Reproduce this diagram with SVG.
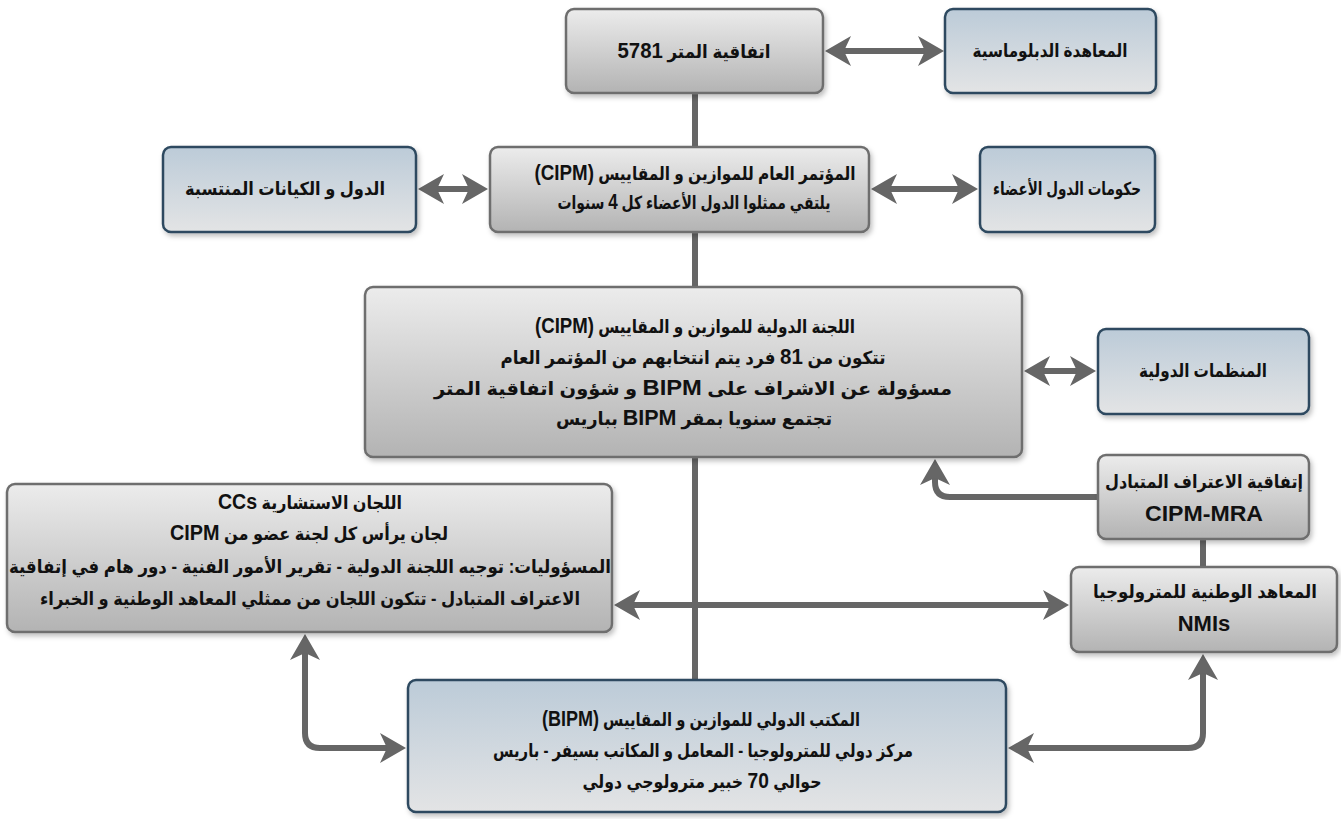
<svg xmlns="http://www.w3.org/2000/svg" width="1341" height="819" viewBox="0 0 1341 819">
<defs>
<linearGradient id="gGray" x1="0" y1="0" x2="0" y2="1">
<stop offset="0" stop-color="#ececec"/>
<stop offset="1" stop-color="#b3b3b3"/>
</linearGradient>
<linearGradient id="gBlue" x1="0" y1="0" x2="0" y2="1">
<stop offset="0" stop-color="#bccbd8"/>
<stop offset="1" stop-color="#e3e4e5"/>
</linearGradient>
<filter id="sh" x="-10%" y="-10%" width="120%" height="130%">
<feDropShadow dx="2" dy="3" stdDeviation="2.5" flood-color="#000" flood-opacity="0.25"/>
</filter>
<marker id="ah" viewBox="0 0 26 30" refX="15" refY="15" markerWidth="26" markerHeight="30" markerUnits="userSpaceOnUse" orient="auto-start-reverse">
<path d="M26,15 L0,0 L7,15 L0,30 Z" fill="#666"/>
</marker>
</defs>
<style>
.gray{fill:url(#gGray);stroke:#6e6e6e;stroke-width:2.5;filter:url(#sh)}
.blue{fill:url(#gBlue);stroke:#2d4a60;stroke-width:2.5;filter:url(#sh)}
text{font-family:'Liberation Sans','DejaVu Sans',sans-serif;font-weight:bold;font-size:18px;fill:#111;text-anchor:middle;direction:rtl}
.big{font-size:22px}
.lat{unicode-bidi:isolate;direction:ltr}
.ltr{direction:ltr}
.con{fill:none;stroke:#666;stroke-width:6;stroke-linejoin:round}
.arr{marker-start:url(#ah);marker-end:url(#ah)}
.arr1{marker-end:url(#ah)}
</style>

<g id="connectors">
<path class="con" d="M695,93 V147"/>
<path class="con" d="M695,232 V287"/>
<path class="con" d="M695,457 V680"/>
<path class="con" d="M1203,539 V567"/>
<path class="con arr" d="M836,51 H933"/>
<path class="con arr" d="M429,189 H477"/>
<path class="con arr" d="M882,189 H967"/>
<path class="con arr" d="M1035,371 H1085"/>
<path class="con arr1" d="M1098,497 H950 Q935,497 935,482 V470"/>
<path class="con arr" d="M625,605 H1058"/>
<path class="con arr" d="M305,645 V733 Q305,748 320,748 H395"/>
<path class="con arr" d="M1203,665 V733 Q1203,748 1188,748 H1019"/>
</g>

<g id="metre-convention">
<rect class="gray" x="566" y="9" width="257" height="84" rx="8"/>
<text x="694" y="58" textLength="153" lengthAdjust="spacingAndGlyphs">اتفاقية المتر <tspan class="big">5781</tspan></text>
</g>
<g id="diplomatic-treaty">
<rect class="blue" x="945" y="9" width="211" height="84" rx="8"/>
<text x="1050" y="57" textLength="155" lengthAdjust="spacingAndGlyphs">المعاهدة الدبلوماسية</text>
</g>
<g id="states-entities">
<rect class="blue" x="163" y="147" width="253" height="85" rx="8"/>
<text x="285" y="195" textLength="200" lengthAdjust="spacingAndGlyphs">الدول و الكيانات المنتسبة</text>
</g>
<g id="general-conference">
<rect class="gray" x="490" y="147" width="379" height="85" rx="8"/>
<text x="695" y="180" textLength="321" lengthAdjust="spacingAndGlyphs">المؤتمر العام للموازين و المقاييس  <tspan class="big lat">(CIPM)</tspan></text>
<text x="694" y="209" textLength="273" lengthAdjust="spacingAndGlyphs">يلتقي ممثلوا الدول الأعضاء كل <tspan class="big">4</tspan> سنوات</text>
</g>
<g id="member-governments">
<rect class="blue" x="980" y="147" width="175" height="85" rx="8"/>
<text x="1067" y="195" textLength="148" lengthAdjust="spacingAndGlyphs">حكومات الدول الأعضاء</text>
</g>
<g id="cipm">
<rect class="gray" x="365" y="287" width="657" height="170" rx="8"/>
<text x="695" y="333" textLength="320" lengthAdjust="spacingAndGlyphs">اللجنة الدولية للموازين و المقاييس <tspan class="big lat">(CIPM)</tspan></text>
<text x="693" y="364" textLength="385" lengthAdjust="spacingAndGlyphs">تتكون من <tspan class="big">81</tspan> فرد يتم انتخابهم من المؤتمر العام</text>
<text x="693" y="395" textLength="518" lengthAdjust="spacingAndGlyphs">مسؤولة عن الاشراف على <tspan class="big">BIPM</tspan>  و شؤون اتفاقية المتر</text>
<text x="694" y="425" textLength="276" lengthAdjust="spacingAndGlyphs">تجتمع سنويا بمقر  <tspan class="big">BIPM</tspan> بباريس</text>
</g>
<g id="international-organizations">
<rect class="blue" x="1098" y="329" width="211" height="85" rx="8"/>
<text x="1203" y="377" textLength="128" lengthAdjust="spacingAndGlyphs">المنظمات الدولية</text>
</g>
<g id="cipm-mra">
<rect class="gray" x="1098" y="455" width="211" height="84" rx="8"/>
<text x="1204" y="488" textLength="198" lengthAdjust="spacingAndGlyphs">إتفاقية الاعتراف المتبادل</text>
<text class="big ltr" x="1204" y="521" textLength="118" lengthAdjust="spacingAndGlyphs">CIPM-MRA</text>
</g>
<g id="consultative-committees">
<rect class="gray" x="7" y="484" width="605" height="148" rx="8"/>
<text x="310" y="509" textLength="184" lengthAdjust="spacingAndGlyphs">اللجان الاستشارية <tspan class="big">CCs</tspan></text>
<text x="309" y="540" textLength="278" lengthAdjust="spacingAndGlyphs">لجان يرأس كل لجنة عضو من <tspan class="big">CIPM</tspan></text>
<text x="310" y="573" textLength="602" lengthAdjust="spacingAndGlyphs">المسؤوليات: توجيه اللجنة الدولية - تقرير الأمور الفنية - دور هام في إتفاقية</text>
<text x="310" y="605" textLength="540" lengthAdjust="spacingAndGlyphs">الاعتراف المتبادل - تتكون اللجان من ممثلي المعاهد الوطنية و الخبراء</text>
</g>
<g id="nmis">
<rect class="gray" x="1071" y="567" width="266" height="85" rx="8"/>
<text x="1205" y="598" textLength="224" lengthAdjust="spacingAndGlyphs">المعاهد الوطنية للمترولوجيا</text>
<text class="big ltr" x="1204" y="631">NMIs</text>
</g>
<g id="bipm">
<rect class="blue" x="408" y="680" width="598" height="132" rx="8"/>
<text x="701" y="726" textLength="318" lengthAdjust="spacingAndGlyphs">المكتب الدولي للموازين و المقاييس <tspan class="big lat">(BIPM)</tspan></text>
<text x="703" y="757" textLength="420" lengthAdjust="spacingAndGlyphs">مركز دولي للمترولوجيا - المعامل و المكاتب بسيفر - باريس</text>
<text x="702" y="788" textLength="239" lengthAdjust="spacingAndGlyphs">حوالي <tspan class="big">70</tspan> خبير مترولوجي دولي</text>
</g>
</svg>
